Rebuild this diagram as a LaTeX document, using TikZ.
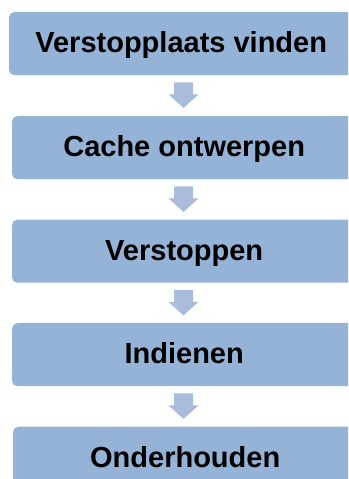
\documentclass[tikz,border=0pt]{standalone}
\usepackage{fontspec}
\setmainfont{Liberation Sans}
\definecolor{boxblue}{HTML}{95B3D7}
\definecolor{arrowblue}{HTML}{A9BCDC}
\begin{document}
\begin{tikzpicture}[x=1pt,y=1pt,
  stepbox/.style={rectangle, rounded corners=5pt, fill=boxblue, draw=none,
    minimum width=344pt, minimum height=63pt, anchor=north west,
    font=\fontsize{29}{34}\selectfont\bfseries, text height=21pt, text depth=3pt, inner sep=0pt},
  blockarrow/.style={fill=arrowblue, draw=none}]
\useasboundingbox (0,0) rectangle (348,-479);
\clip (0,0) rectangle (348,-479);
\node[stepbox] (b1) at (9,-12) {Verstopplaats vinden};
\node[stepbox] (b2) at (12,-116) {Cache ontwerpen};
\node[stepbox] (b3) at (12,-219.5) {Verstoppen};
\node[stepbox] (b4) at (12,-323) {Indienen};
\node[stepbox] (b5) at (13,-426.5) {Onderhouden};
\foreach \a/\b in {b1/b2,b2/b3,b3/b4,b4/b5}{
  \coordinate (top) at ([yshift=-7pt]\a.south -| 183.5,0);
  \fill[blockarrow] (top) ++(-9.5,0) -- ++(0,-12) -- ++(-5.5,0) -- ++(15,-13.5)
     -- ++(15,13.5) -- ++(-5.5,0) -- ++(0,12) -- cycle;
}
\end{tikzpicture}
\end{document}
